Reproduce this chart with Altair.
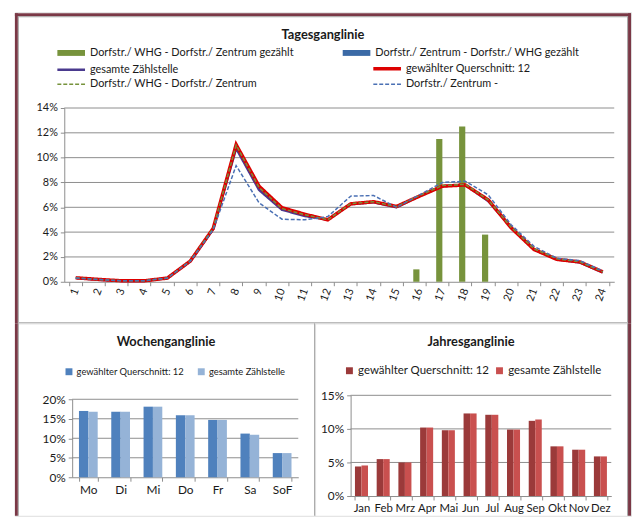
import altair as alt
import pandas as pd

FONT = "Lato"

# ---------------- data ----------------
hours = [1, 2, 3, 4, 5, 6, 7, 8, 9, 10, 11, 12, 13, 14, 15, 16, 17, 18, 19, 20, 21, 22, 23, 24]
bar_whg_zentrum = [0, 0, 0, 0, 0, 0, 0, 0, 0, 0, 0, 0, 0, 0, 0, 1.0, 11.5, 12.5, 3.8, 0, 0, 0, 0, 0]
bar_zentrum_whg = [0, 0, 0, 0, 0, 0, 0, 0, 0, 0, 0, 0, 0, 0, 0, 0, 0, 0, 0, 0, 0, 0, 0, 0]
line_gesamt = [0.3, 0.16, 0.07, 0.07, 0.3, 1.65, 4.25, 10.75, 7.4, 5.8, 5.3, 5.0, 6.25, 6.4, 6.0, 6.9, 7.7, 7.8, 6.5, 4.4, 2.6, 1.8, 1.55, 0.75]
line_querschnitt = [0.32, 0.19, 0.08, 0.08, 0.3, 1.67, 4.3, 11.05, 7.7, 5.97, 5.44, 4.99, 6.28, 6.45, 6.07, 6.9, 7.7, 7.8, 6.6, 4.35, 2.6, 1.8, 1.6, 0.8]
line_whg_zentrum = [0.32, 0.18, 0.08, 0.08, 0.3, 1.68, 4.32, 11.0, 7.6, 5.9, 5.4, 5.0, 6.3, 6.45, 6.05, 6.95, 7.75, 7.85, 6.6, 4.4, 2.65, 1.85, 1.6, 0.8]
line_zentrum = [0.3, 0.18, 0.08, 0.08, 0.3, 1.65, 4.2, 9.36, 6.36, 5.04, 4.99, 5.25, 6.9, 6.95, 6.0, 7.0, 8.0, 8.1, 7.0, 4.6, 2.85, 1.9, 1.7, 0.87]
top_ticks = [0, 2, 4, 6, 8, 10, 12, 14]

days = ["Mo", "Di", "Mi", "Do", "Fr", "Sa", "SoF"]
week_querschnitt = [17.0, 16.8, 18.1, 15.9, 14.7, 11.2, 6.2]
week_gesamt = [16.8, 16.8, 18.1, 15.9, 14.7, 10.9, 6.2]
week_ticks = [0, 5, 10, 15, 20]

months = ["Jan", "Feb", "Mrz", "Apr", "Mai", "Jun", "Jul", "Aug", "Sep", "Okt", "Nov", "Dez"]
year_querschnitt = [4.4, 5.5, 5.0, 10.2, 9.8, 12.3, 12.1, 9.9, 11.2, 7.4, 6.9, 5.9]
year_gesamt = [4.55, 5.5, 5.0, 10.2, 9.8, 12.3, 12.1, 9.9, 11.4, 7.4, 6.9, 5.9]
year_ticks = [0, 5, 10, 15]

LBL_BAR1 = "Dorfstr./ WHG - Dorfstr./ Zentrum gezählt"
LBL_BAR2 = "Dorfstr./ Zentrum - Dorfstr./ WHG gezählt"
LBL_GES = "gesamte Zählstelle"
LBL_QS = "gewählter Querschnitt: 12"
LBL_D1 = "Dorfstr./ WHG - Dorfstr./ Zentrum"
LBL_D2 = "Dorfstr./ Zentrum -"

bar_series = [LBL_BAR1, LBL_BAR2]
bar_colors = ["#77933c", "#3b6aa6"]
line_series = [LBL_GES, LBL_QS, LBL_D1, LBL_D2]
line_colors = ["#4a3a8e", "#dd0000", "#77933c", "#4a70b4"]
line_widths = [2.5, 3.5, 1.5, 1.5]
line_dash = [[1, 0], [1, 0], [4, 2], [4, 2]]

# ---------------- styles ----------------
MAROON = "#7a3846"
BORDER_GREY = "#a6a6a6"
GRID = "#8c8c8c"
TXT = "#1a1a1a"
ONE = pd.DataFrame({"k": [0]})


def rect(x1, x2, y1, y2, color, opacity=1.0):
    return alt.Chart(ONE).mark_rect(color=color, opacity=opacity).encode(
        x=alt.value(x1), x2=alt.value(x2), y=alt.value(y1), y2=alt.value(y2)
    )


def title_text(text, x, y):
    return alt.Chart(ONE).mark_text(
        font=FONT, fontSize=13, fontWeight="bold", color=TXT, align="center", baseline="middle"
    ).encode(x=alt.value(x), y=alt.value(y), text=alt.value(text))


def x_axis(offset, size, angle=0):
    return alt.Axis(labelAngle=angle, labelFont=FONT, labelFontSize=size, labelColor=TXT,
                    tickBand="extent", tickSize=4, tickColor=GRID, domainColor=GRID,
                    labelPadding=3, grid=False, offset=offset)


def y_axis(values, offset, size):
    return alt.Axis(values=values, labelExpr="datum.value + '%'", grid=False,
                    domainColor=GRID, tickColor=GRID, tickSize=4, labelFont=FONT,
                    labelFontSize=size, labelColor=TXT, labelPadding=3, offset=offset)


# =============== top panel: Tagesganglinie (624 x 315) ===============
TOP_W, TOP_H = 624, 315
TX0, TX1, TY0, TY1 = 50, 607, 97, 273   # plot rectangle inside the panel

bar_df = pd.DataFrame({
    "hour": hours + hours,
    "series": [LBL_BAR1] * len(hours) + [LBL_BAR2] * len(hours),
    "value": bar_whg_zentrum + bar_zentrum_whg,
})
line_df = pd.concat([
    pd.DataFrame({"hour": hours, "series": LBL_GES, "value": line_gesamt}),
    pd.DataFrame({"hour": hours, "series": LBL_QS, "value": line_querschnitt}),
    pd.DataFrame({"hour": hours, "series": LBL_D1, "value": line_whg_zentrum}),
    pd.DataFrame({"hour": hours, "series": LBL_D2, "value": line_zentrum}),
], ignore_index=True)
top_grid_df = pd.DataFrame({"value": top_ticks[1:]})

x_top = alt.X("hour:O", title=None,
              scale=alt.Scale(range=[TX0, TX1], paddingInner=0.46, paddingOuter=0.23),
              axis=x_axis(TY1 - TOP_H, 11, 290))
y_top = alt.Y("value:Q", title=None,
              scale=alt.Scale(domain=[0, 14], nice=False, range=[TY1, TY0]),
              axis=y_axis(top_ticks, -TX0, 11))

bar_legend = alt.Legend(
    title=None, orient="none", legendX=41, legendY=35.5, direction="horizontal",
    columns=2, columnPadding=47, rowPadding=2,
    symbolType="M-1,-0.85H7V0.85H-1Z", symbolSize=49, symbolStrokeWidth=0,
    labelFont=FONT, labelFontSize=11, labelColor=TXT, labelOffset=24, labelLimit=400,
)
line_legend = alt.Legend(
    title=None, orient="none", legendX=41, legendY=51.5, direction="horizontal",
    columns=2, columnPadding=111, rowPadding=2,
    symbolType="M-1,0H7", symbolSize=49, labelFont=FONT, labelFontSize=11,
    labelColor=TXT, labelOffset=24, labelLimit=400,
)

top_grid = alt.Chart(top_grid_df).mark_rule(color=GRID, strokeWidth=1).encode(
    y=y_top, x=alt.value(TX0), x2=alt.value(TX1)
)

bars = alt.Chart(bar_df).mark_bar().encode(
    x=x_top,
    xOffset=alt.XOffset("series:N", sort=bar_series,
                        scale=alt.Scale(paddingInner=0, paddingOuter=0)),
    y=y_top,
    color=alt.Color("series:N", scale=alt.Scale(domain=bar_series, range=bar_colors),
                    legend=bar_legend),
)

lines = alt.Chart(line_df).mark_line().encode(
    x=x_top,
    y=y_top,
    stroke=alt.Stroke("series:N", scale=alt.Scale(domain=line_series, range=line_colors),
                      legend=line_legend),
    strokeDash=alt.StrokeDash("series:N", scale=alt.Scale(domain=line_series, range=line_dash),
                              legend=line_legend),
    strokeWidth=alt.StrokeWidth("series:N", scale=alt.Scale(type="ordinal", domain=line_series,
                                                            range=line_widths),
                                legend=line_legend),
    order=alt.Order("hour:Q"),
)

top_decor = [
    rect(0, 3, 1, TOP_H, MAROON),
    rect(TOP_W - 3, TOP_W, 1, TOP_H, MAROON),
    rect(0, TOP_W, 1, 4, MAROON),
    rect(3, 4, 4, TOP_H - 1, BORDER_GREY),
    rect(TOP_W - 4, TOP_W - 3, 4, TOP_H - 1, BORDER_GREY),
    rect(3, TOP_W - 3, 4, 5, BORDER_GREY),
    rect(3, TOP_W - 3, TOP_H - 1, TOP_H, BORDER_GREY),
    title_text("Tagesganglinie", 312, 23),
]

top = alt.layer(*top_decor, top_grid, bars, lines).properties(width=TOP_W, height=TOP_H)

# =============== bottom left: Wochenganglinie (304 x 195) ===============
WK_W, WK_H = 304, 195
WX0, WX1, WY0, WY1 = 58, 287, 77, 156

week_df = pd.DataFrame({
    "day": days + days,
    "series": [LBL_QS] * len(days) + [LBL_GES] * len(days),
    "value": week_querschnitt + week_gesamt,
})
week_grid_df = pd.DataFrame({"value": week_ticks[1:]})

x_week = alt.X("day:N", sort=days, title=None,
               scale=alt.Scale(range=[WX0, WX1], paddingInner=0.42, paddingOuter=0.21),
               axis=x_axis(WY1 - WK_H, 12))
y_week = alt.Y("value:Q", title=None,
               scale=alt.Scale(domain=[0, 20], nice=False, range=[WY1, WY0]),
               axis=y_axis(week_ticks, -WX0, 12))

week_grid = alt.Chart(week_grid_df).mark_rule(color=GRID, strokeWidth=1).encode(
    y=y_week, x=alt.value(WX0), x2=alt.value(WX1)
)
week_bars = alt.Chart(week_df).mark_bar().encode(
    x=x_week,
    xOffset=alt.XOffset("series:N", sort=[LBL_QS, LBL_GES],
                        scale=alt.Scale(paddingInner=0, paddingOuter=0)),
    y=y_week,
    color=alt.Color("series:N",
                    scale=alt.Scale(domain=[LBL_QS, LBL_GES], range=["#4f81bd", "#95b3d7"]),
                    legend=alt.Legend(title=None, orient="none", legendX=50, legendY=44,
                                      direction="horizontal", columns=2, columnPadding=12,
                                      symbolType="square", symbolSize=49, symbolStrokeWidth=0,
                                      labelFont=FONT, labelFontSize=9.5, labelColor=TXT,
                                      labelOffset=3, labelLimit=300)),
)

week_decor = [
    rect(0, 3, 0, WK_H, MAROON),
    rect(3, 4, 0, WK_H, BORDER_GREY),
    rect(WK_W - 1, WK_W, 0, WK_H, BORDER_GREY),
    title_text("Wochenganglinie", 153, 19),
]

week = alt.layer(*week_decor, week_grid, week_bars).properties(width=WK_W, height=WK_H)

# =============== bottom right: Jahresganglinie (320 x 195) ===============
YR_W, YR_H = 320, 195
YX0, YX1, YY0, YY1 = 36, 300, 73, 175

year_df = pd.DataFrame({
    "month": months + months,
    "series": [LBL_QS] * len(months) + [LBL_GES] * len(months),
    "value": year_querschnitt + year_gesamt,
})
year_grid_df = pd.DataFrame({"value": year_ticks[1:]})

x_year = alt.X("month:N", sort=months, title=None,
               scale=alt.Scale(range=[YX0, YX1], paddingInner=0.4, paddingOuter=0.2),
               axis=x_axis(YY1 - YR_H, 11.5))
y_year = alt.Y("value:Q", title=None,
               scale=alt.Scale(domain=[0, 15], nice=False, range=[YY1, YY0]),
               axis=y_axis(year_ticks, -YX0, 12))

year_grid = alt.Chart(year_grid_df).mark_rule(color=GRID, strokeWidth=1).encode(
    y=y_year, x=alt.value(YX0), x2=alt.value(YX1)
)
year_bars = alt.Chart(year_df).mark_bar().encode(
    x=x_year,
    xOffset=alt.XOffset("series:N", sort=[LBL_QS, LBL_GES],
                        scale=alt.Scale(paddingInner=0, paddingOuter=0)),
    y=y_year,
    color=alt.Color("series:N",
                    scale=alt.Scale(domain=[LBL_QS, LBL_GES], range=["#9b3a3a", "#c9504f"]),
                    legend=alt.Legend(title=None, orient="none", legendX=29, legendY=42,
                                      direction="horizontal", columns=2, columnPadding=4,
                                      symbolType="square", symbolSize=49, symbolStrokeWidth=0,
                                      labelFont=FONT, labelFontSize=11.6, labelColor=TXT,
                                      labelOffset=3, labelLimit=300)),
)

year_decor = [
    rect(YR_W - 4, YR_W - 3, 0, YR_H, BORDER_GREY),
    rect(YR_W - 3, YR_W, 0, YR_H, MAROON),
    title_text("Jahresganglinie", 158, 19),
]

year = alt.layer(*year_decor, year_grid, year_bars).properties(width=YR_W, height=YR_H)

bottom = alt.hconcat(week, year, spacing=0, bounds="flush").resolve_scale(
    color="independent", xOffset="independent"
)

chart = alt.vconcat(top, bottom, spacing=0, bounds="flush").resolve_scale(
    color="independent", xOffset="independent"
).properties(
    padding=0, background="white",
).configure_view(
    strokeWidth=0,
).configure(
    font=FONT,
)

chart.save("out.html", embed_options={"renderer": "svg", "actions": False})
